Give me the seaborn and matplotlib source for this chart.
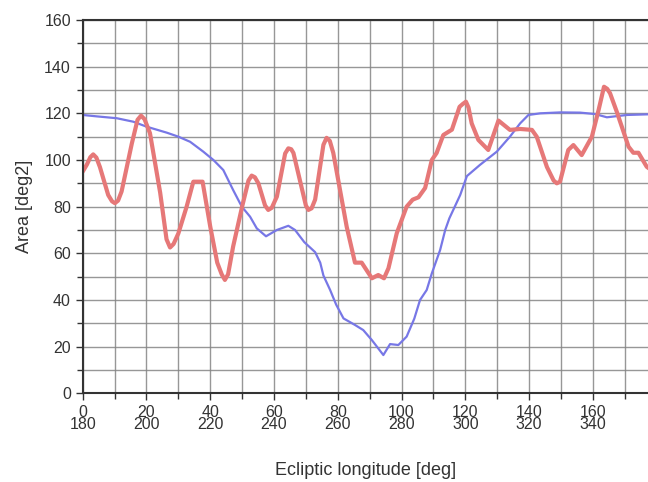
import matplotlib
matplotlib.use("Agg")
import matplotlib.pyplot as plt
from matplotlib.ticker import MultipleLocator, FuncFormatter
import seaborn as sns

# Offset longitude (0 = 180 deg ecliptic longitude)
red_x = [0, 1.3, 2.4, 3.3, 4.3, 5.4, 8, 9.2, 10.1, 11.1, 12.2, 15.4, 17.2, 18.3, 19.4,
         21.1, 24.3, 26.3, 27.4, 28.5, 30, 32.6, 34.7, 37.6, 40, 42.2, 43.6, 44.6,
         45.6, 47.2, 50, 52, 53, 54, 55.1, 57.2, 58.2, 59.3, 60.9, 63.5, 64.5,
         65.4, 66.1, 70, 70.8, 71.8, 72.9, 75.5, 76.5, 77.5, 78.6, 82.8, 85.4,
         87.5, 90.7, 92.7, 94.5, 95.9, 98.5, 101.6, 103.5, 105.3, 107.4, 109.5,
         111, 113.1, 115.8, 118.2, 119.2, 120.2, 121, 122, 124.1, 127.2, 130.4,
         134, 137.2, 140.9, 142.4, 145.6, 147.7, 148.7, 149.7, 152.3, 153.9, 156.5,
         159.7, 161.8, 163.5, 164.5, 165.4, 167.5, 171.2, 172.7, 174.3, 176.9, 178]
red_area = [95, 98, 101.2, 102.4, 101, 97, 85, 82.3, 81.5, 82.6, 86.5, 107, 117.2, 119,
            117.5, 111.5, 86, 66, 62.5, 64, 68.5, 80, 90.7, 90.7, 71.5, 56, 51,
            48.6, 51, 63, 80, 91.2, 93.3, 92.6, 90, 80.5, 78.6, 79.5, 84.3, 102.8,
            105, 104.6, 103, 80.5, 78.6, 79.3, 83, 106.5, 109.5, 108.2, 103, 71.4,
            56, 56, 49.3, 50.7, 49.3, 53.6, 68.6, 80, 83, 84, 88, 100,
            103, 110.7, 113, 122.8, 124, 125, 122.5, 115.7, 108.6, 104.3, 116.9,
            112.9, 113.3, 112.9, 110, 97, 91.2, 90, 90.7, 104.3, 106.4, 102.1,
            110, 121.4, 131.4, 130.5, 128.6, 120.7, 105.7, 103.1, 103.1, 97.1, 96]

blue_x = [0, 4.4, 10.7, 15.9, 20, 26.4, 30, 33.7, 37.8, 41, 44.1, 47.2, 49.9, 52.5,
          54.6, 57.5, 60.9, 64.5, 66.6, 69.5, 72.9, 74.5, 75.5, 77.6, 79.5, 81.8,
          85.4, 88, 90.7, 94.3, 96.4, 99, 101.6, 104, 105.8, 107.9, 109.5, 112.1,
          113.7, 115, 118.4, 120.5, 124.6, 129.9, 134, 137.2, 139.8, 143.5, 149.8,
          156, 160.7, 164.4, 170.7, 178]
blue_area = [119.3, 118.7, 117.9, 116.4, 114.3, 111.7, 110, 107.8, 103.6, 100, 95.7,
             87.1, 80, 75.7, 70.7, 67.3, 70, 71.8, 70, 64.8, 60.5, 56, 50.5, 44.3,
             38, 32.1, 29.3, 27.1, 22.8, 16.4, 21.1, 20.7, 24.3, 32, 40, 44.3, 51.4,
             61.4, 70, 75, 85, 93.1, 97.9, 103.6, 110, 115.7, 119.3, 120, 120.4,
             120.3, 119.7, 118.3, 119.3, 119.6]

sns.set_style("white")
plt.rcParams["font.family"] = ["Liberation Sans", "DejaVu Sans"]

fig = plt.figure(figsize=(6.48, 4.82), dpi=100)
ax = fig.add_axes([0.1276, 0.184, 0.8724, 0.7745])

sns.lineplot(x=blue_x, y=blue_area, ax=ax, color="#7777e6", linewidth=1.6,
             sort=False, estimator=None)
sns.lineplot(x=red_x, y=red_area, ax=ax, color="#e67878", linewidth=3.0,
             sort=False, estimator=None)

ax.set_xlim(0, 177.3)
ax.set_ylim(0, 160)

ax.xaxis.set_major_locator(MultipleLocator(20))
ax.xaxis.set_minor_locator(MultipleLocator(10))
ax.yaxis.set_major_locator(MultipleLocator(20))
ax.yaxis.set_minor_locator(MultipleLocator(10))
ax.xaxis.set_major_formatter(FuncFormatter(lambda v, p: f"{int(v)}\n{int(v) + 180}"))

ax.grid(True, which="both", color="#858585", linewidth=1.0, alpha=0.85)
ax.set_axisbelow(True)

ax.tick_params(axis="both", which="both", direction="out", colors="#333333",
               left=True, bottom=True, labelsize=11.5, width=1)
ax.tick_params(which="major", length=5)
ax.tick_params(which="minor", length=4)
for lab in ax.get_xticklabels():
    lab.set_linespacing(0.7)

for side in ["left", "bottom", "top"]:
    ax.spines[side].set_color("#333333")
    ax.spines[side].set_linewidth(1.5)
ax.spines["right"].set_visible(False)

ax.set_xlabel("Ecliptic longitude [deg]", fontsize=13, color="#333333", labelpad=22)
ax.set_ylabel("Area [deg2]", fontsize=13, color="#333333", labelpad=8)

fig.savefig("out.png", dpi=100)
